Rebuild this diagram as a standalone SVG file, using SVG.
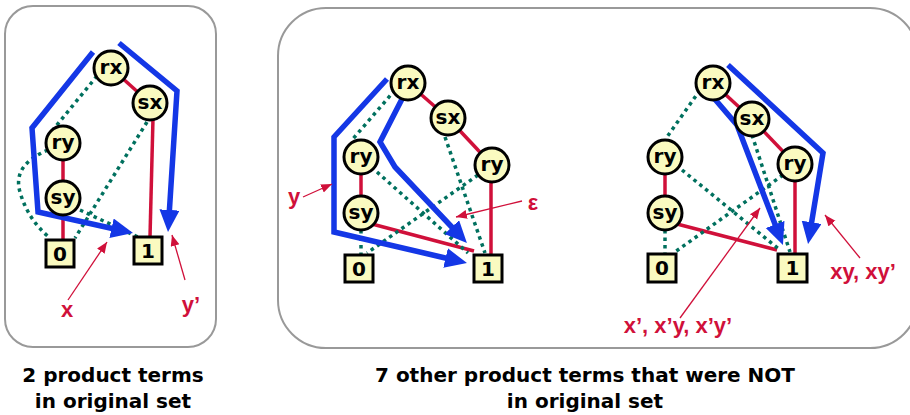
<svg xmlns="http://www.w3.org/2000/svg" width="910" height="415" viewBox="0 0 910 415">
<defs>
<marker id="bh" markerUnits="userSpaceOnUse" markerWidth="24" markerHeight="22" refX="2" refY="10" orient="auto">
<path d="M0,0 L22,10 L0,20 z" fill="#1437E6"/>
</marker>
<marker id="rh" markerUnits="userSpaceOnUse" markerWidth="12" markerHeight="10" refX="11" refY="4.5" orient="auto">
<path d="M0,0 L11,4.5 L0,9 z" fill="#D0103A"/>
</marker>
<style>
.panel{fill:#fff;stroke:#999;stroke-width:2}
.nd{fill:#FAFAC0;stroke:#000;stroke-width:3}
.bx{fill:#FAFAC0;stroke:#000;stroke-width:3}
.nt{font-family:"DejaVu Sans",sans-serif;font-weight:bold;font-size:20px;fill:#000;text-anchor:middle}
.bt{font-family:"DejaVu Sans",sans-serif;font-weight:bold;font-size:20px;fill:#000;text-anchor:middle}
.hi{fill:none;stroke:#D0103A;stroke-width:3.5}
.lo{fill:none;stroke:#00705E;stroke-width:3.5;stroke-dasharray:3.5 4}
.bl{fill:none;stroke:#1437E6;stroke-width:5.5;stroke-linejoin:miter;marker-end:url(#bh)}
.an{fill:none;stroke:#D0103A;stroke-width:1.3;marker-end:url(#rh)}
.lb{font-family:"Liberation Sans",Arial,sans-serif;font-weight:bold;font-size:22px;fill:#D0103A;text-anchor:middle}
.cap{font-family:"DejaVu Sans",sans-serif;font-weight:bold;font-size:20px;fill:#000;text-anchor:middle}
</style>
</defs>
<rect class="panel" x="5" y="6" width="211" height="341" rx="28"/>
<rect class="panel" x="278" y="8" width="640" height="340" rx="48"/>

<g id="connectors">
<line class="hi" x1="111" y1="68" x2="150" y2="103"/>
<line class="hi" x1="63" y1="143" x2="63" y2="198"/>
<line class="hi" x1="63" y1="198" x2="63" y2="240"/>
<line class="hi" x1="153" y1="118" x2="150" y2="237"/>
<line class="lo" x1="97" y1="76" x2="52" y2="131"/>
<path class="lo" d="M48,150 Q12,165 20,192 Q28,220 50,238"/>
<line class="lo" x1="147" y1="122" x2="75" y2="238"/>
<line class="lo" x1="80" y1="210" x2="140" y2="238"/>
<polyline class="bl" points="93,52 32,128 38,212 113.5,228.7"/>
<polyline class="bl" points="119,43 177,91 169.3,212"/>
<line class="an" x1="68" y1="300" x2="107" y2="242"/>
<line class="an" x1="185" y1="280" x2="172" y2="235"/>
<line class="hi" x1="408" y1="83" x2="448" y2="118"/>
<line class="hi" x1="448" y1="118" x2="492" y2="165"/>
<line class="hi" x1="361" y1="157" x2="361" y2="213"/>
<line class="hi" x1="372" y1="224" x2="474" y2="251"/>
<line class="hi" x1="491" y1="180" x2="491" y2="255"/>
<line class="lo" x1="395" y1="90" x2="352" y2="140"/>
<line class="lo" x1="377" y1="172" x2="468" y2="253"/>
<line class="lo" x1="445" y1="137" x2="485" y2="253"/>
<line class="lo" x1="478" y1="175" x2="367" y2="253"/>
<line class="lo" x1="361" y1="230" x2="361" y2="255"/>
<polyline class="bl" points="387,79 334,137 334,232 447.5,258.5"/>
<polyline class="bl" points="402,99 380,142 395,167 453.2,228.5"/>
<line class="an" x1="303" y1="197" x2="332" y2="184"/>
<line class="an" x1="522" y1="201" x2="456" y2="217"/>
<line class="hi" x1="713" y1="83" x2="752" y2="119"/>
<line class="hi" x1="752" y1="119" x2="795" y2="164"/>
<line class="hi" x1="665" y1="157" x2="665" y2="213"/>
<line class="hi" x1="677" y1="224" x2="777" y2="250"/>
<line class="hi" x1="795" y1="180" x2="795" y2="253"/>
<line class="lo" x1="700" y1="90" x2="667" y2="137"/>
<line class="lo" x1="682" y1="170" x2="780" y2="250"/>
<line class="lo" x1="752" y1="135" x2="790" y2="252"/>
<line class="lo" x1="783" y1="175" x2="675" y2="252"/>
<line class="lo" x1="665" y1="230" x2="665" y2="253"/>
<polyline class="bl" points="713,97 737,125 775.8,226.3"/>
<polyline class="bl" points="728,65 823,153 811.3,224.3"/>
<line class="an" x1="680" y1="318" x2="760" y2="208"/>
<line class="an" x1="860" y1="258" x2="825" y2="215"/>
</g>

<g id="L_rx"><circle class="nd" cx="111" cy="68" r="17"/><text class="nt" x="111" y="74">rx</text></g>
<g id="L_sx"><circle class="nd" cx="150" cy="103" r="17"/><text class="nt" x="150" y="109">sx</text></g>
<g id="L_ry"><circle class="nd" cx="63" cy="143" r="17"/><text class="nt" x="63" y="149">ry</text></g>
<g id="L_sy"><circle class="nd" cx="63" cy="198" r="17"/><text class="nt" x="63" y="204">sy</text></g>
<g id="L_0"><rect class="bx" x="46" y="240" width="28" height="27"/><text class="bt" x="60" y="261">0</text></g>
<g id="L_1"><rect class="bx" x="134" y="237" width="28" height="27"/><text class="bt" x="148" y="258">1</text></g>

<g id="M_rx"><circle class="nd" cx="408" cy="83" r="17"/><text class="nt" x="408" y="89">rx</text></g>
<g id="M_sx"><circle class="nd" cx="448" cy="118" r="17"/><text class="nt" x="448" y="124">sx</text></g>
<g id="M_ryR"><circle class="nd" cx="492" cy="165" r="17"/><text class="nt" x="492" y="171">ry</text></g>
<g id="M_ryL"><circle class="nd" cx="361" cy="157" r="17"/><text class="nt" x="361" y="163">ry</text></g>
<g id="M_sy"><circle class="nd" cx="361" cy="213" r="17"/><text class="nt" x="361" y="219">sy</text></g>
<g id="M_0"><rect class="bx" x="345" y="255" width="28" height="27"/><text class="bt" x="359" y="276">0</text></g>
<g id="M_1"><rect class="bx" x="474" y="255" width="28" height="27"/><text class="bt" x="488" y="276">1</text></g>

<g id="R_rx"><circle class="nd" cx="713" cy="83" r="17"/><text class="nt" x="713" y="89">rx</text></g>
<g id="R_sx"><circle class="nd" cx="752" cy="119" r="17"/><text class="nt" x="752" y="125">sx</text></g>
<g id="R_ryR"><circle class="nd" cx="795" cy="164" r="17"/><text class="nt" x="795" y="170">ry</text></g>
<g id="R_ryL"><circle class="nd" cx="665" cy="157" r="17"/><text class="nt" x="665" y="163">ry</text></g>
<g id="R_sy"><circle class="nd" cx="665" cy="213" r="17"/><text class="nt" x="665" y="219">sy</text></g>
<g id="R_0"><rect class="bx" x="648" y="254" width="28" height="28"/><text class="bt" x="662" y="275">0</text></g>
<g id="R_1"><rect class="bx" x="778" y="254" width="29" height="28"/><text class="bt" x="792.5" y="275">1</text></g>

<g id="labels">
<text class="lb" x="67" y="317">x</text>
<text class="lb" x="191" y="312">y’</text>
<text class="lb" x="294" y="204">y</text>
<text class="lb" x="533" y="210">ε</text>
<text class="lb" x="863" y="279">xy, xy’</text>
<text class="lb" x="678" y="333">x’, x’y, x’y’</text>
<text class="cap" x="113" y="382">2 product terms</text>
<text class="cap" x="113" y="408">in original set</text>
<text class="cap" x="585" y="382">7 other product terms that were NOT</text>
<text class="cap" x="585" y="408">in original set</text>
</g>
</svg>
